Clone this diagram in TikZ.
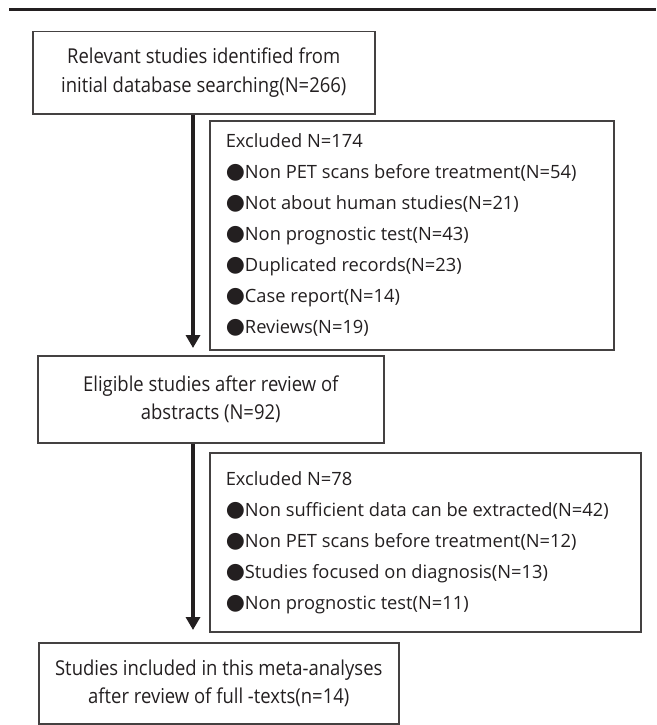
\documentclass[tikz,border=0pt]{standalone}
\usepackage{fontspec}
\setmainfont{Open Sans}
\newfontfamily\boxfont{Open Sans}[FakeStretch=0.9]
\newfontfamily\symfont{DejaVu Sans}
\usetikzlibrary{arrows.meta,calc}

\definecolor{ink}{HTML}{231F20}
\newcommand{\blt}{{\symfont\fontsize{22}{22}\selectfont ●}}
\tikzset{
  flowbox/.style={draw=ink!85,line width=1.5pt,align=center,anchor=north west,inner sep=0pt,
    font=\boxfont\fontsize{20.5}{28.5}\selectfont,text=ink},
  exclbox/.style={draw=ink!85,line width=1.5pt,align=flush left,anchor=north west,inner xsep=16pt,inner ysep=0pt,
    font=\fontsize{18.3}{31}\selectfont,text=ink},
  flowarrow/.style={ink,line width=4pt,-{Triangle[width=14pt,length=13pt]}}
}

\begin{document}
\begin{tikzpicture}[x=1pt,y=-1pt]
  \useasboundingbox (0,0) rectangle (656,725);

  % rule on top
  \draw[ink,line width=3pt] (9,10) -- (656,10);

  % main boxes
  \node[flowbox,minimum width=342pt,minimum height=82pt] (found) at (32,31)
    {Relevant studies identified from\\initial database searching(N=266)};
  \node[flowbox,minimum width=346pt,minimum height=87pt] (eligible) at (37,355)
    {Eligible studies after review of\\abstracts (N=92)};
  \node[flowbox,minimum width=360pt,minimum height=81pt] (included) at (38,642)
    {Studies included in this meta-analyses\\after review of full -texts(n=14)};

  % excluded boxes
  \node[exclbox,minimum width=404pt,minimum height=229pt,text width=372pt] (excl1) at (209,120)
    {Excluded N=174\\
     \blt Non PET scans before treatment(N=54)\\
     \blt Not about human studies(N=21)\\
     \blt Non prognostic test(N=43)\\
     \blt Duplicated records(N=23)\\
     \blt Case report(N=14)\\
     \blt Reviews(N=19)};
  \node[exclbox,minimum width=431pt,minimum height=179pt,text width=399pt] (excl2) at (209,452)
    {Excluded N=78\\
     \blt Non sufficient data can be extracted(N=42)\\
     \blt Non PET scans before treatment(N=12)\\
     \blt Studies focused on diagnosis(N=13)\\
     \blt Non prognostic test(N=11)};

  % arrows
  \coordinate (axis) at (193,0);
  \draw[flowarrow,shorten >=7pt] (found.south -| axis) -- (eligible.north -| axis);
  \draw[flowarrow,shorten >=12pt] (eligible.south -| axis) -- (included.north -| axis);

\end{tikzpicture}
\end{document}
